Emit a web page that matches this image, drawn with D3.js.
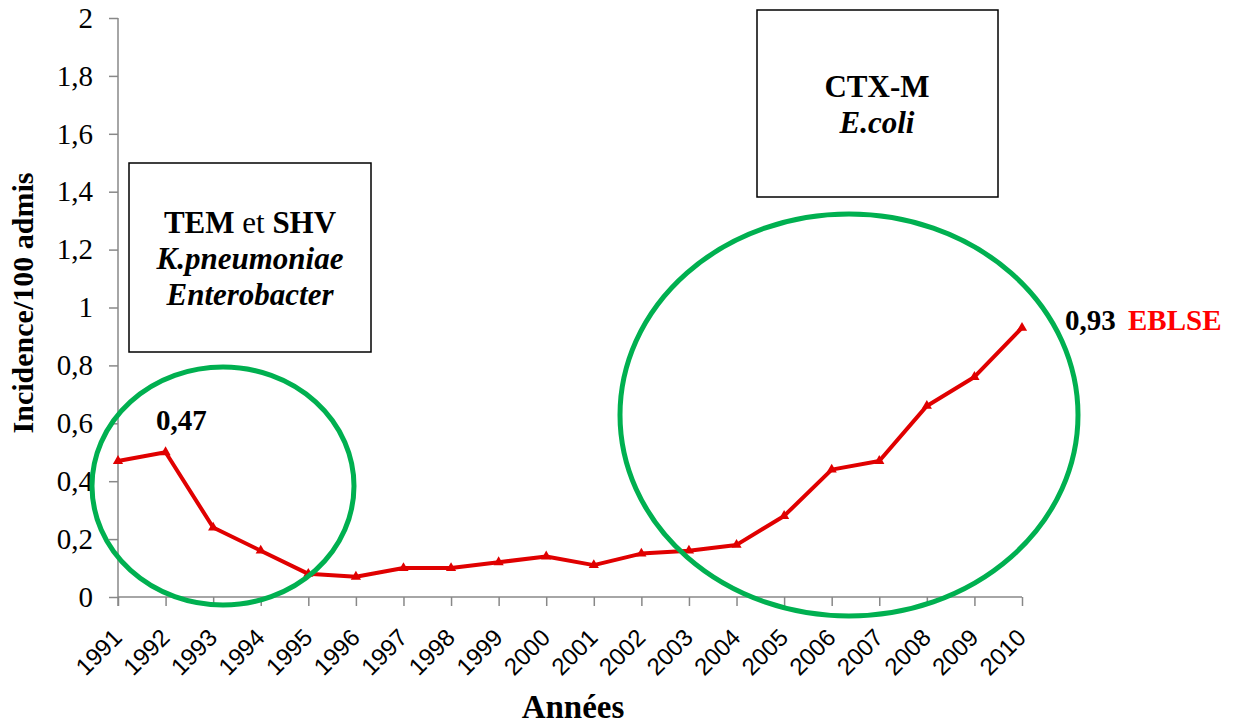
<!DOCTYPE html>
<html lang="fr">
<head>
<meta charset="UTF-8">
<script src="https://d3js.org/d3.v7.min.js"></script>
<style>
  body { margin: 0; background: #fff; }
  svg text { font-family: "Liberation Serif", "Times New Roman", serif; }
</style>
</head>
<body>
<div id="chart"></div>
<script>
const years = [1991, 1992, 1993, 1994, 1995, 1996, 1997, 1998, 1999, 2000,
               2001, 2002, 2003, 2004, 2005, 2006, 2007, 2008, 2009, 2010];
const incidence = [0.47, 0.50, 0.24, 0.16, 0.08, 0.07, 0.10, 0.10, 0.12, 0.14,
                   0.11, 0.15, 0.16, 0.18, 0.28, 0.44, 0.47, 0.66, 0.76, 0.93];
const yTicks = [0, 0.2, 0.4, 0.6, 0.8, 1, 1.2, 1.4, 1.6, 1.8, 2];

const width = 1236, height = 726;
const serif = "'Liberation Serif', 'Times New Roman', serif";
const sans = "'Liberation Sans', Arial, sans-serif";

const svg = d3.select("#chart").append("svg")
    .attr("width", width)
    .attr("height", height);

const x = d3.scalePoint().domain(years).range([118, 1022]);
const y = d3.scaleLinear().domain([0, 2]).range([597, 18]);
const fmt = v => String(v).replace(".", ",");

// y axis
const yAxis = svg.append("g").attr("transform", "translate(118,0)")
    .call(d3.axisLeft(y).tickValues(yTicks).tickFormat(fmt).tickSize(9).tickPadding(16));
yAxis.select(".domain").attr("stroke", "#888").attr("stroke-width", 1.5).attr("d", "M0,18V606");
yAxis.selectAll(".tick line").attr("stroke", "#888").attr("stroke-width", 1.5);
yAxis.selectAll("text")
    .style("font-family", serif)
    .style("font-size", "29px")
    .attr("fill", "#000");

// x axis
const xAxis = svg.append("g").attr("transform", "translate(0,597)")
    .call(d3.axisBottom(x).tickSize(9).tickSizeOuter(0));
xAxis.select(".domain").attr("stroke", "#888").attr("stroke-width", 1.5).attr("d", "M118,0H1022");
xAxis.selectAll(".tick line").attr("stroke", "#888").attr("stroke-width", 1.5);
xAxis.selectAll("text")
    .style("font-family", sans)
    .style("font-size", "24px")
    .attr("fill", "#000")
    .attr("text-anchor", "end")
    .attr("x", 0).attr("y", 0).attr("dy", 0)
    .attr("transform", "translate(5,42) rotate(-45)");

// axis titles
svg.append("text")
    .attr("transform", "translate(33,303) rotate(-90)")
    .attr("text-anchor", "middle")
    .style("font-family", serif)
    .style("font-size", "30px").style("font-weight", "bold")
    .text("Incidence/100 admis");

svg.append("text")
    .attr("x", 573).attr("y", 718)
    .attr("text-anchor", "middle")
    .style("font-family", serif)
    .style("font-size", "33px").style("font-weight", "bold")
    .text("Années");

// annotation boxes
svg.append("rect").attr("x", 129).attr("y", 163).attr("width", 242).attr("height", 189)
    .attr("fill", "#fff").attr("stroke", "#000").attr("stroke-width", 1.5);
svg.append("rect").attr("x", 757).attr("y", 10).attr("width", 241).attr("height", 187)
    .attr("fill", "#fff").attr("stroke", "#000").attr("stroke-width", 1.5);

const boxFont = "31px";
const t1 = svg.append("text").attr("x", 250).attr("y", 233).attr("text-anchor", "middle")
    .style("font-family", serif).style("font-size", boxFont);
t1.append("tspan").style("font-weight", "bold").text("TEM");
t1.append("tspan").text(" et ");
t1.append("tspan").style("font-weight", "bold").text("SHV");
svg.append("text").attr("x", 250).attr("y", 269).attr("text-anchor", "middle")
    .style("font-family", serif)
    .style("font-size", boxFont).style("font-weight", "bold").style("font-style", "italic")
    .text("K.pneumoniae");
svg.append("text").attr("x", 250).attr("y", 305).attr("text-anchor", "middle")
    .style("font-family", serif)
    .style("font-size", boxFont).style("font-weight", "bold").style("font-style", "italic")
    .text("Enterobacter");

svg.append("text").attr("x", 877).attr("y", 97).attr("text-anchor", "middle")
    .style("font-family", serif)
    .style("font-size", boxFont).style("font-weight", "bold")
    .text("CTX-M");
svg.append("text").attr("x", 877).attr("y", 133).attr("text-anchor", "middle")
    .style("font-family", serif)
    .style("font-size", boxFont).style("font-weight", "bold").style("font-style", "italic")
    .text("E.coli");

// data line
const line = d3.line().x((d, i) => x(years[i])).y(d => y(d));
svg.append("path").datum(incidence)
    .attr("d", line)
    .attr("fill", "none")
    .attr("stroke", "#e00000")
    .attr("stroke-width", 4)
    .attr("stroke-linejoin", "round");

svg.append("g").selectAll("path.mk")
    .data(incidence)
    .join("path")
    .attr("class", "mk")
    .attr("d", d3.symbol(d3.symbolTriangle, 45))
    .attr("transform", (d, i) => `translate(${x(years[i])},${y(d)})`)
    .attr("fill", "#e00000");

// value labels
svg.append("text").attr("x", 156).attr("y", 430)
    .style("font-family", serif)
    .style("font-size", "29px").style("font-weight", "bold")
    .text(fmt(incidence[0]));
svg.append("text").attr("x", 1065).attr("y", 330)
    .style("font-family", serif)
    .style("font-size", "29px").style("font-weight", "bold")
    .text(fmt(incidence[incidence.length - 1]));
svg.append("text").attr("x", 1128).attr("y", 330)
    .style("font-family", serif)
    .style("font-size", "29px").style("font-weight", "bold")
    .attr("fill", "#ff0000")
    .text("EBLSE");

// highlight ellipses
svg.append("ellipse").attr("cx", 223).attr("cy", 486).attr("rx", 131).attr("ry", 119)
    .attr("fill", "none").attr("stroke", "#00b050").attr("stroke-width", 5);
svg.append("ellipse").attr("cx", 849).attr("cy", 415).attr("rx", 229).attr("ry", 201)
    .attr("fill", "none").attr("stroke", "#00b050").attr("stroke-width", 5);
</script>
</body>
</html>
